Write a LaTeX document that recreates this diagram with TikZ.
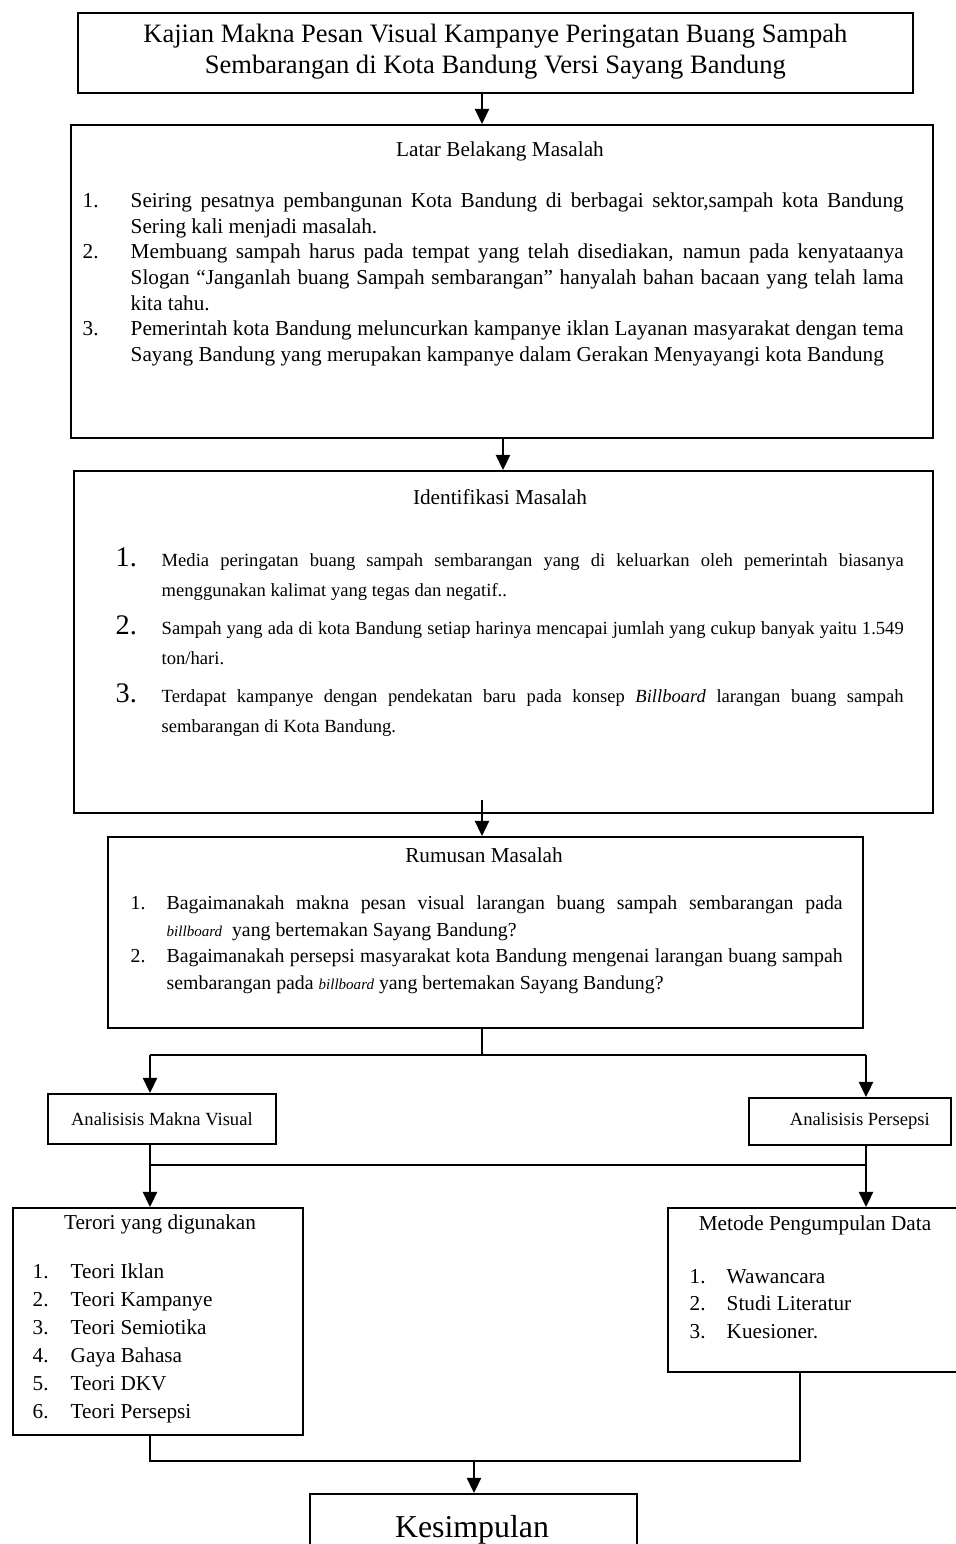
\documentclass[tikz,border=0pt]{standalone}
\usepackage{fontspec}
\setmainfont{Liberation Serif}
\usetikzlibrary{calc, positioning}
\usetikzlibrary{arrows.meta}
\newlength{\px}
\setlength{\px}{0.565pt}
\newcommand{\Kotak}[4][]{%
% kotak dari pojok kiri atas #3 sampai pojok kanan bawah #4
\path let \p1=#3, \p2=#4 in
  node[#1, draw, rectangle, line width=1pt, inner sep=0pt, minimum width=\x2-\x1, minimum height=\y1-\y2, anchor=north west] (#2) at (\p1) {};
}
% satu butir daftar bernomor dengan indentasi gantung
\newcommand{\Butir}[3]{\par\noindent\hangindent=#1\hangafter=1\makebox[#1][l]{#2}#3\par}
\tikzset{
  panah/.style={line width=1pt, -{Triangle[length=8.5pt, width=8pt]}},
  garis/.style={line width=0.8pt},
  tipis/.style={line width=0.6pt},
  isi/.style={anchor=north west, inner sep=0pt, align=justify},
  judulkecil/.style={anchor=base, inner sep=0pt, font=\fontsize{12}{14}\selectfont}
}

\begin{document}
\begin{tikzpicture}[x=\px, y=-\px, thick]
    \useasboundingbox (0,0) rectangle (955,1544);

    % sumbu panah
    \coordinate (sb1) at (482,0);
    \coordinate (sb2) at (503,0);
    \coordinate (sb3) at (474,0);
    \coordinate (kiri) at (150,0);
    \coordinate (kanan) at (866,0);
    \coordinate (kanan2) at (800,0);

    % Judul
    \Kotak{judul}{(77,12)}{(912,92)};
    \node [align=center, inner sep=0pt, font=\fontsize{15}{17.5}\selectfont] (judul/teks) at ($(judul.center)+(0,-1.5)$)
        {Kajian Makna Pesan Visual Kampanye Peringatan Buang Sampah\\Sembarangan di Kota Bandung Versi Sayang Bandung};

    % Latar Belakang Masalah
    \Kotak{latar}{(70,124)}{(932,437)};
    \node [judulkecil] (latar/judul) at ($(latar.north west)+(430,33)$) {Latar Belakang Masalah};
    \node [isi, text width=821\px, font=\fontsize{12}{14.5}\selectfont] (latar/isi) at ($(latar.north west)+(12,57)$) {%
        \Butir{48\px}{1.}{Seiring pesatnya pembangunan Kota Bandung di berbagai sektor,sampah kota Bandung\linebreak Sering kali menjadi masalah.}
        \Butir{48\px}{2.}{Membuang sampah harus pada tempat yang telah disediakan, namun pada kenyataanya\linebreak Slogan “Janganlah buang Sampah sembarangan” hanyalah bahan bacaan yang telah lama\linebreak kita tahu.}
        \Butir{48\px}{3.}{Pemerintah kota Bandung meluncurkan kampanye iklan Layanan masyarakat dengan tema\linebreak Sayang Bandung yang merupakan kampanye dalam Gerakan Menyayangi kota Bandung}};

    % Identifikasi Masalah
    \Kotak{idm}{(73,470)}{(932,812)};
    \node [judulkecil] (idm/judul) at ($(idm.north west)+(427,34)$) {Identifikasi Masalah};
    \node [isi, text width=788\px, font=\fontsize{10.5}{16.95}\selectfont] (idm/isi) at ($(idm.north west)+(42,66)$) {%
        \Butir{46\px}{\fontsize{16}{17}\selectfont 1.}{Media peringatan buang sampah sembarangan yang di keluarkan oleh pemerintah biasanya\linebreak menggunakan kalimat yang tegas dan negatif..}\vspace{4.6pt}
        \Butir{46\px}{\fontsize{16}{17}\selectfont 2.}{Sampah yang ada di kota Bandung setiap harinya mencapai jumlah yang cukup banyak yaitu 1.549\linebreak ton/hari.}\vspace{4.6pt}
        \Butir{46\px}{\fontsize{16}{17}\selectfont 3.}{Terdapat kampanye dengan pendekatan baru pada konsep \textit{Billboard} larangan buang sampah\linebreak sembarangan di Kota Bandung.}};

    % Rumusan Masalah
    \Kotak{rm}{(107,836)}{(862,1027)};
    \node [judulkecil] (rm/judul) at ($(rm.north west)+(377,26)$) {Rumusan Masalah};
    \node [isi, text width=712\px, font=\fontsize{11.2}{15.1}\selectfont] (rm/isi) at ($(rm.north west)+(23,46)$) {%
        \Butir{36\px}{1.}{Bagaimanakah makna pesan visual larangan buang sampah sembarangan pada\linebreak {\itshape\fontsize{8.5}{10}\selectfont billboard}\ \ yang bertemakan Sayang Bandung?}
        \Butir{36\px}{2.}{Bagaimanakah persepsi masyarakat kota Bandung mengenai larangan buang sampah\linebreak sembarangan pada {\itshape\fontsize{8.5}{10}\selectfont billboard} yang bertemakan Sayang Bandung?}};

    % Analisis
    \Kotak{amv}{(47,1093)}{(275,1143)};
    \node [inner sep=0pt, font=\fontsize{10.5}{12}\selectfont] (amv/teks) at (amv.center) {Analisisis Makna Visual};
    \Kotak{ap}{(748,1097)}{(950,1144)};
    \node [inner sep=0pt, font=\fontsize{10.5}{12}\selectfont, xshift=10\px] (ap/teks) at (ap.center) {Analisisis Persepsi};

    % Teori dan Metode
    \Kotak{teori}{(12,1207)}{(302,1434)};
    \node [judulkecil] (teori/judul) at ($(teori.north west)+(148,22)$) {Terori yang digunakan};
    \node [isi, text width=260\px, font=\fontsize{12}{15.8}\selectfont] (teori/isi) at ($(teori.north west)+(20,43)$) {%
        \Butir{38\px}{1.}{Teori Iklan}
        \Butir{38\px}{2.}{Teori Kampanye}
        \Butir{38\px}{3.}{Teori Semiotika}
        \Butir{38\px}{4.}{Gaya Bahasa}
        \Butir{38\px}{5.}{Teori DKV}
        \Butir{38\px}{6.}{Teori Persepsi}};

    \Kotak{metode}{(667,1207)}{(975,1371)};
    \node [judulkecil] (metode/judul) at ($(metode.north west)+(148,23)$) {Metode Pengumpulan Data};
    \node [isi, text width=250\px, font=\fontsize{12}{15.5}\selectfont] (metode/isi) at ($(metode.north west)+(22,48)$) {%
        \Butir{37\px}{1.}{Wawancara}
        \Butir{37\px}{2.}{Studi Literatur}
        \Butir{37\px}{3.}{Kuesioner.}};

    % Kesimpulan
    \Kotak{kes}{(309,1493)}{(636,1580)};
    \node [anchor=base, inner sep=0pt, font=\fontsize{18}{20}\selectfont] (kes/teks) at (472,1537) {Kesimpulan};

    % Panah
    \coordinate (cabang) at (482,1055);
    \coordinate (cabang2) at (482,1165);
    \coordinate (gabung) at (474,1461);
    \draw [panah] (judul.south -| sb1) -- (latar.north -| sb1);
    \draw [panah] (latar.south -| sb2) -- (idm.north -| sb2);
    \draw [panah] ($(idm.south -| sb1)+(0,-14)$) -- (rm.north -| sb1);
    \draw [tipis] (rm.south -| sb1) -- (cabang);
    \draw [garis] (cabang -| kiri) -- (cabang -| kanan);
    \draw [panah] (cabang -| kiri) -- (amv.north -| kiri);
    \draw [panah] (cabang -| kanan) -- (ap.north -| kanan);
    \draw [panah] (amv.south -| kiri) -- (teori.north -| kiri);
    \draw [panah] (ap.south -| kanan) -- (metode.north -| kanan);
    \draw [garis] (cabang2 -| kiri) -- (cabang2 -| kanan);
    \draw [tipis] (teori.south -| kiri) -- (gabung -| kiri) -- (gabung -| kanan2) -- (metode.south -| kanan2);
    \draw [panah] (gabung) -- (kes.north -| gabung);

\end{tikzpicture}
\end{document}
